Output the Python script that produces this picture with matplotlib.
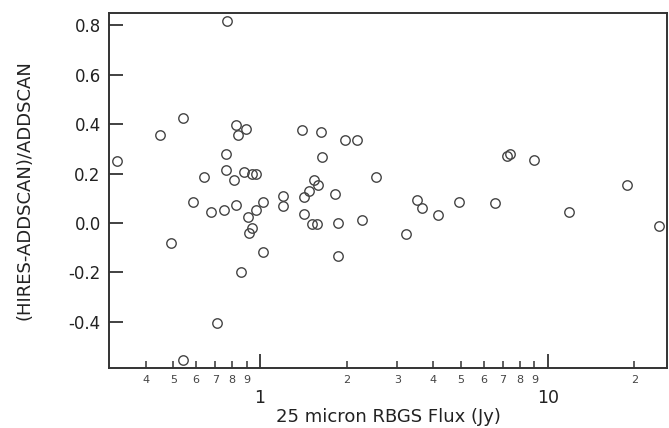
import matplotlib
matplotlib.use("Agg")
import matplotlib.pyplot as plt
from matplotlib.ticker import FixedLocator, FixedFormatter, NullFormatter

# 25 micron RBGS flux (Jy) and (HIRES-ADDSCAN)/ADDSCAN
flux = [0.317, 0.449, 0.538, 0.768, 0.827, 0.892, 0.837, 0.760, 0.760, 0.810,
        0.878, 0.938, 0.968, 0.639, 0.586, 0.678, 0.747, 0.825, 0.911, 0.968,
        1.027, 1.405, 1.627, 1.649, 1.199, 1.199, 1.420, 1.483, 1.544, 1.595,
        1.823, 1.420, 1.974, 2.168, 2.540, 3.504, 3.648, 4.147, 4.909, 6.560,
        7.232, 7.379, 8.948, 11.89, 18.82, 0.489, 0.936, 0.918, 1.027, 0.859,
        0.709, 0.538, 1.516, 1.575, 1.872, 1.872, 2.257, 3.218, 24.41]
ratio = [0.249, 0.357, 0.426, 0.819, 0.398, 0.382, 0.357, 0.278, 0.213, 0.174,
         0.205, 0.197, 0.199, 0.188, 0.086, 0.046, 0.054, 0.073, 0.025, 0.053,
         0.083, 0.375, 0.367, 0.269, 0.109, 0.068, 0.105, 0.130, 0.174, 0.152,
         0.116, 0.036, 0.334, 0.334, 0.188, 0.094, 0.059, 0.034, 0.086, 0.081,
         0.270, 0.279, 0.253, 0.044, 0.152, -0.082, -0.020, -0.042, -0.116, -0.197,
         -0.407, -0.554, -0.005, -0.005, 0.000, -0.135, 0.010, -0.043, -0.013]

yticks = [-0.4, -0.2, 0.0, 0.2, 0.4, 0.6, 0.8]
ytick_labels = ["-0.4", "-0.2", "0.0", "0.2", "0.4", "0.6", "0.8"]
xmajor = [1, 10]
xmajor_labels = ["1", "10"]
xminor = [0.4, 0.5, 0.6, 0.7, 0.8, 0.9, 2, 3, 4, 5, 6, 7, 8, 9, 20]
xminor_labels = ["4", "5", "6", "7", "8", "9", "2", "3", "4", "5", "6", "7", "8", "9", "2"]

ink = "#333333"
txt = "#222222"

fig = plt.figure(figsize=(6.69, 4.28), dpi=100)
ax = fig.add_axes([0.163, 0.140, 0.834, 0.830])

ax.plot(flux, ratio, linestyle="none", marker="o", markersize=6.8,
        markerfacecolor="none", markeredgecolor="#444444", markeredgewidth=1.0)

ax.set_xscale("log")
ax.set_xlim(0.2986, 26.0)
ax.set_ylim(-0.588, 0.851)

ax.xaxis.set_major_locator(FixedLocator(xmajor))
ax.xaxis.set_major_formatter(FixedFormatter(xmajor_labels))
ax.xaxis.set_minor_locator(FixedLocator(xminor))
ax.xaxis.set_minor_formatter(FixedFormatter(xminor_labels))
ax.yaxis.set_major_locator(FixedLocator(yticks))
ax.yaxis.set_major_formatter(FixedFormatter(ytick_labels))
ax.yaxis.set_minor_formatter(NullFormatter())

ax.tick_params(axis="x", which="major", direction="in", length=10, width=1.3,
               color=ink, labelsize=12.5, pad=15, labelcolor=txt)
ax.tick_params(axis="x", which="minor", direction="in", length=5, width=1.1,
               color=ink, labelsize=8, pad=5, labelcolor="#444444")
ax.tick_params(axis="y", which="major", direction="in", length=10, width=1.3,
               color=ink, labelsize=12, pad=6, labelcolor=txt)
ax.tick_params(top=False, right=False)

for s in ax.spines.values():
    s.set_color(ink)
    s.set_linewidth(1.4)

ax.set_xlabel("25 micron RBGS Flux (Jy)", fontsize=13, color=txt, labelpad=1)
ax.set_ylabel("(HIRES-ADDSCAN)/ADDSCAN", fontsize=13, color=txt, labelpad=25)

fig.savefig("out.png", dpi=100)
